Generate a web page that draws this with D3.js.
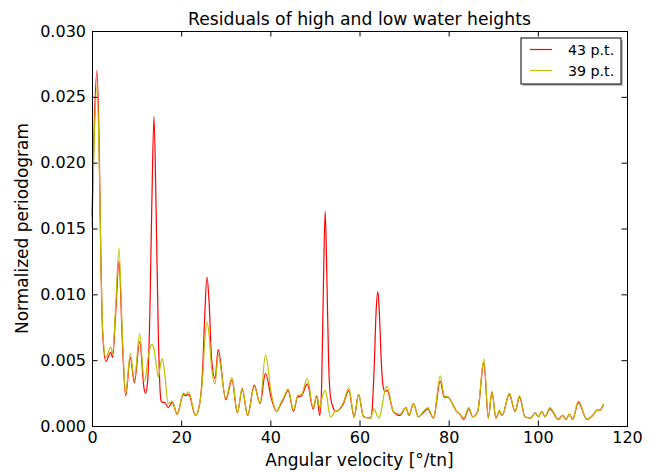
<!DOCTYPE html>
<html>
<head>
<meta charset="utf-8">
<script src="https://cdn.jsdelivr.net/npm/d3@7"></script>
<style>
  body { margin: 0; background: #fff; }
  text { font-family: "DejaVu Sans", sans-serif; }
</style>
</head>
<body>
<div id="chart"></div>
<script>
// angular velocity samples (°/tn)
const omega = [0, 0.5, 1.1, 1.6, 2.0, 2.4, 3.1, 4.2, 4.6, 5.3, 6.05, 6.8, 7.55, 8.6, 9.5, 10.7, 11.7, 12.0, 12.5, 13.0,
  13.4, 13.9, 14.4, 14.9, 15.2, 15.5, 15.8, 16.3, 17.1, 18.0, 19.1, 20.5, 21.0, 21.7, 23.2, 24.2, 24.8, 25.3, 25.8, 26.3,
  26.8, 27.6, 28.3, 30.0, 31.4, 32.6, 33.7, 34.9, 36.4, 37.7, 38.9, 40.3, 41.4, 42.4, 42.9, 44.0, 45.2, 46.1, 47.0, 48.3,
  49.6, 50.4, 51.1, 51.5, 51.9, 52.3, 52.7, 53.1, 53.5, 54.1, 54.5, 55.3, 56.4, 57.6, 58.8, 59.8, 60.9, 62.4, 62.7, 63.3,
  63.7, 64.1, 64.4, 64.9, 65.3, 65.7, 66.2, 67.6, 69.1, 70.4, 71.1, 72.1, 73.2, 74.3, 75.3, 76.6, 78.1, 79.0, 79.9, 80.5,
  81.8, 82.5, 83.4, 84.5, 85.4, 86.5, 87.9, 88.9, 89.7, 90.6, 91.4, 92.0, 93.6, 94.9, 95.9, 97.1, 98.4, 99.4, 100.1, 100.9,
  101.6, 102.7, 104.6, 105.6, 106.3, 107.1, 107.8, 109.1, 111.0, 112.3, 113.3, 113.9, 114.7];

const p43 = [0.0159, 0.0228, 0.0270, 0.0215, 0.0125, 0.0070, 0.0049, 0.0056, 0.0052, 0.0085, 0.0125, 0.0065, 0.0023, 0.0052, 0.0033, 0.0064, 0.0028, 0.0025, 0.0035, 0.0090,
  0.0165, 0.0235, 0.0160, 0.0065, 0.0032, 0.0019, 0.0018, 0.0018, 0.0014, 0.0018, 0.0009, 0.0024, 0.0023, 0.0024, 0.0008, 0.0018, 0.0042, 0.0085, 0.0113, 0.0092,
  0.0052, 0.0036, 0.0058, 0.0020, 0.0035, 0.0010, 0.0028, 0.0008, 0.0031, 0.0017, 0.0040, 0.0020, 0.0011, 0.0017, 0.0020, 0.0027, 0.0011, 0.0022, 0.0023, 0.0032,
  0.0013, 0.0023, 0.0008, 0.0030, 0.0105, 0.0163, 0.0110, 0.0045, 0.0022, 0.0014, 0.0011, 0.0012, 0.0017, 0.0027, 0.0007, 0.0024, 0.0007, 0.0006, 0.0008, 0.0045,
  0.0085, 0.0102, 0.0090, 0.0048, 0.0030, 0.0026, 0.0027, 0.0011, 0.0008, 0.0014, 0.0008, 0.0017, 0.0007, 0.0010, 0.0013, 0.0006, 0.0034, 0.0022, 0.0022, 0.0019,
  0.0011, 0.0009, 0.0005, 0.0013, 0.0007, 0.0011, 0.0048, 0.0006, 0.0026, 0.0006, 0.0011, 0.0008, 0.0024, 0.0011, 0.0022, 0.0007, 0.0006, 0.0010, 0.0007, 0.0011,
  0.0007, 0.0013, 0.0005, 0.0008, 0.0005, 0.0009, 0.0005, 0.0018, 0.0005, 0.0008, 0.0012, 0.0012, 0.0016];

const p39 = [0.0151, 0.0218, 0.0258, 0.0205, 0.0125, 0.0073, 0.0052, 0.0060, 0.0055, 0.0090, 0.0135, 0.0070, 0.0025, 0.0055, 0.0035, 0.0070, 0.0034, 0.0036, 0.0050, 0.0059,
  0.0062, 0.0059, 0.0047, 0.0037, 0.0043, 0.0049, 0.0051, 0.0040, 0.0017, 0.0019, 0.0009, 0.0025, 0.0024, 0.0026, 0.0008, 0.0018, 0.0036, 0.0065, 0.0079, 0.0068,
  0.0045, 0.0032, 0.0054, 0.0021, 0.0037, 0.0010, 0.0029, 0.0008, 0.0030, 0.0017, 0.0054, 0.0023, 0.0011, 0.0018, 0.0021, 0.0028, 0.0012, 0.0023, 0.0024, 0.0036,
  0.0014, 0.0023, 0.0014, 0.0020, 0.0025, 0.0027, 0.0022, 0.0012, 0.0007, 0.0009, 0.0011, 0.0012, 0.0018, 0.0029, 0.0007, 0.0024, 0.0007, 0.0006, 0.0008, 0.0013,
  0.0010, 0.0007, 0.0006, 0.0012, 0.0020, 0.0027, 0.0030, 0.0011, 0.0009, 0.0014, 0.0008, 0.0017, 0.0007, 0.0011, 0.0014, 0.0006, 0.0038, 0.0023, 0.0022, 0.0019,
  0.0011, 0.0009, 0.0006, 0.0014, 0.0007, 0.0011, 0.0051, 0.0006, 0.0026, 0.0006, 0.0012, 0.0008, 0.0025, 0.0011, 0.0023, 0.0007, 0.0006, 0.0010, 0.0007, 0.0011,
  0.0007, 0.0014, 0.0005, 0.0008, 0.0005, 0.0009, 0.0005, 0.0019, 0.0005, 0.0008, 0.0012, 0.0012, 0.0017];

const xTicks = [0, 20, 40, 60, 80, 100, 120];
const yTicks = [0, 0.005, 0.010, 0.015, 0.020, 0.025, 0.030];
const seriesNames = ['43 p.t.', '39 p.t.'];
const seriesColors = ['#ff0000', '#bfbf00'];

const width = 658, height = 472;
const margin = { top: 31, right: 31, bottom: 46, left: 92 };
const w = width - margin.left - margin.right;
const h = height - margin.top - margin.bottom;

const svg = d3.select('#chart').append('svg').attr('width', width).attr('height', height);
const g = svg.append('g').attr('transform', 'translate(' + margin.left + ',' + margin.top + ')');

const x = d3.scaleLinear().domain([0, 120]).range([0, w]);
const y = d3.scaleLinear().domain([0, 0.030]).range([h, 0]);

const line = values => d3.line()
  .x((d, i) => x(omega[i]))
  .y(d => y(d))
  .curve(d3.curveMonotoneX)(values);

[p43, p39].forEach((vals, k) => {
  g.append('path')
    .attr('d', line(vals))
    .attr('fill', 'none')
    .attr('stroke', seriesColors[k])
    .attr('stroke-width', 1.2)
    .attr('stroke-linejoin', 'round');
});

const tick = 5.5;
const styleAxis = sel => {
  sel.select('.domain').remove();
  sel.selectAll('line').attr('stroke', '#000').attr('stroke-width', 1);
  sel.selectAll('text').attr('fill', '#000').style('font-size', '16px').style('font-family', '"DejaVu Sans", sans-serif');
};

g.append('g').attr('transform', 'translate(0,' + h + ')')
  .call(d3.axisBottom(x).tickValues(xTicks).tickFormat(d3.format('d')).tickSizeInner(-tick).tickSizeOuter(0).tickPadding(6))
  .call(styleAxis);
g.append('g')
  .call(d3.axisTop(x).tickValues(xTicks).tickFormat('').tickSizeInner(-tick).tickSizeOuter(0))
  .call(styleAxis);
g.append('g')
  .call(d3.axisLeft(y).tickValues(yTicks).tickFormat(d3.format('.3f')).tickSizeInner(-tick).tickSizeOuter(0).tickPadding(6))
  .call(styleAxis);
g.append('g').attr('transform', 'translate(' + w + ',0)')
  .call(d3.axisRight(y).tickValues(yTicks).tickFormat('').tickSizeInner(-tick).tickSizeOuter(0))
  .call(styleAxis);

g.append('rect').attr('width', w).attr('height', h)
  .attr('fill', 'none').attr('stroke', '#000').attr('stroke-width', 1).attr('shape-rendering', 'crispEdges');

svg.append('text').attr('x', margin.left + w / 2).attr('y', 25)
  .attr('text-anchor', 'middle').style('font-size', '17.2px').text('Residuals of high and low water heights');
svg.append('text').attr('x', margin.left + w / 2).attr('y', 466)
  .attr('text-anchor', 'middle').style('font-size', '17px').text('Angular velocity [°/tn]');
svg.append('text').attr('transform', 'translate(28,' + (margin.top + h / 2) + ') rotate(-90)')
  .attr('text-anchor', 'middle').style('font-size', '17px').text('Normalized periodogram');

// legend
const lg = svg.append('g').attr('transform', 'translate(521,38)');
lg.append('rect').attr('x', 2).attr('y', 2).attr('width', 100).attr('height', 46).attr('fill', '#bfbfbf');
lg.append('rect').attr('width', 100).attr('height', 46).attr('fill', '#fff').attr('stroke', '#000').attr('stroke-width', 1);
seriesNames.forEach((name, k) => {
  const yy = 11.5 + k * 21;
  lg.append('line').attr('x1', 9).attr('x2', 31).attr('y1', yy).attr('y2', yy)
    .attr('stroke', seriesColors[k]).attr('stroke-width', 1.2);
  lg.append('text').attr('x', 47).attr('y', yy + 5).style('font-size', '14.2px').text(name);
});
</script>
</body>
</html>
